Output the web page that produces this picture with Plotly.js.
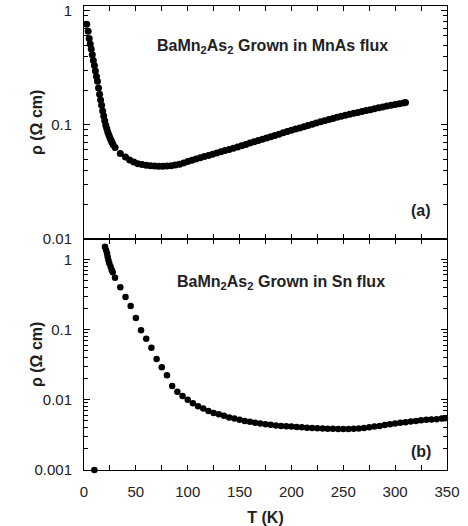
<!DOCTYPE html>
<html>
<head>
<meta charset="utf-8">
<script src="https://cdn.plot.ly/plotly-3.0.1.min.js"></script>
<style>html,body{margin:0;padding:0;background:#fff;}#chart{width:468px;height:526px;}</style>
</head>
<body>
<div id="chart"></div>
<script>
// Panel (a): BaMn2As2 grown in MnAs flux
var tempA = [2.6,4,5,6,7,8,9,10,11,12,13,14,15,16,17,18,19,20,21,22,23,24,25,26,27,28,30,35,40,44,48,52,56,60,64,68,72,76,80,84,88,92,96,100,104,108,112,116,120,124,128,132,136,140,144,148,152,156,160,164,168,172,176,180,184,188,192,196,200,204,208,212,216,220,224,228,232,236,240,244,248,252,256,260,264,268,272,276,280,284,288,292,296,300,304,308,310];
var rhoA = [0.76,0.66,0.57,0.51,0.46,0.41,0.365,0.33,0.295,0.265,0.24,0.21,0.185,0.165,0.148,0.132,0.119,0.108,0.099,0.092,0.086,0.081,0.077,0.073,0.070,0.067,0.063,0.056,0.052,0.049,0.047,0.0455,0.0447,0.0440,0.0436,0.0434,0.0433,0.0433,0.0434,0.0437,0.0442,0.0450,0.0462,0.0475,0.0488,0.0500,0.0512,0.0525,0.0538,0.0550,0.0565,0.0580,0.0593,0.0607,0.0620,0.0638,0.0655,0.0670,0.0690,0.0710,0.0728,0.0745,0.0765,0.0785,0.0805,0.0825,0.0848,0.0870,0.0893,0.0915,0.0935,0.0960,0.0985,0.1010,0.1035,0.1060,0.1085,0.1110,0.1135,0.1160,0.1185,0.1210,0.1235,0.1260,0.1280,0.1305,0.1330,0.1355,0.1380,0.1405,0.1430,0.1455,0.1480,0.1500,0.1525,0.1550,0.1565];

// Panel (b): BaMn2As2 grown in Sn flux
var tempB = [10,20.2,21.2,22.2,22.8,23.5,24.4,25.7,26.7,27.7,29.9,35,40,45,50,55,60,65,70,75,80,85,90,95,100,105,110,115,120,125,130,135,140,145,150,155,160,165,170,175,180,185,190,195,200,205,210,215,220,225,230,235,240,245,250,255,260,265,270,275,280,285,290,295,300,305,310,315,320,325,330,335,340,345,348];
var rhoB = [0.001,1.51,1.36,1.22,1.09,0.98,0.877,0.785,0.704,0.653,0.547,0.40,0.29,0.216,0.146,0.098,0.074,0.055,0.038,0.029,0.0223,0.0157,0.013,0.0113,0.0100,0.0089,0.0081,0.0075,0.0069,0.0065,0.0062,0.0059,0.0056,0.0054,0.0052,0.0050,0.00485,0.0047,0.0046,0.0045,0.0044,0.00432,0.00425,0.0042,0.00415,0.0041,0.00405,0.0040,0.00397,0.00393,0.0039,0.00388,0.00386,0.00385,0.00384,0.00384,0.00386,0.0039,0.00397,0.00405,0.00415,0.00425,0.00437,0.00448,0.0046,0.0047,0.0048,0.0049,0.0050,0.0051,0.0052,0.00525,0.0053,0.0054,0.00545];

var xTickVals = [0,25,50,75,100,125,150,175,200,225,250,275,300,325,350];
var xTickText = ['0','','50','','100','','150','','200','','250','','300','','350'];
var yTopVals = [1,0.1,0.01];
var yTopText = ['1','0.1','0.01'];
var yBotVals = [1,0.1,0.01,0.001];
var yBotText = ['1','0.1','0.01','0.001'];

var FONT = 'Liberation Sans, Arial, sans-serif';

var traces = [
  {x: tempA, y: rhoA, xaxis: 'x2', yaxis: 'y2', type: 'scatter', mode: 'markers',
   marker: {color: '#000', size: 7}, cliponaxis: false, hoverinfo: 'skip'},
  {x: tempB, y: rhoB, xaxis: 'x', yaxis: 'y', type: 'scatter', mode: 'markers',
   marker: {color: '#000', size: 6.5}, cliponaxis: false, hoverinfo: 'skip'}
];

var commonX = {
  range: [0, 350], showgrid: false, zeroline: false,
  showline: true, linecolor: '#000', linewidth: 1, mirror: 'allticks',
  ticks: 'inside', ticklen: 5, tickcolor: '#000', tickwidth: 1,
  tickmode: 'array', tickvals: xTickVals, ticktext: xTickText
};
var commonY = {
  type: 'log', showgrid: false, zeroline: false,
  showline: true, linecolor: '#000', linewidth: 1, mirror: 'allticks',
  ticks: 'inside', ticklen: 6, tickcolor: '#000', tickwidth: 1,
  tickmode: 'array',
  minor: {ticks: 'inside', ticklen: 4, tickcolor: '#000', tickwidth: 1, dtick: 'D1', showgrid: false},
  ticklabelstandoff: 8,
  tickfont: {family: FONT, size: 15, color: '#222'},
  title: {text: 'ρ (Ω cm)', font: {family: FONT, size: 16, color: '#222', weight: 'bold'}}
};

var layout = {
  width: 468, height: 526,
  margin: {l: 84, r: 21, t: 6, b: 56},
  paper_bgcolor: '#fff', plot_bgcolor: '#fff',
  showlegend: false,
  xaxis: Object.assign({}, commonX, {
    anchor: 'y', domain: [0, 1],
    ticklabelstandoff: 8,
    tickfont: {family: FONT, size: 15, color: '#222'},
    title: {text: 'T (K)', font: {family: FONT, size: 16, color: '#222', weight: 'bold'}}
  }),
  xaxis2: Object.assign({}, commonX, {
    anchor: 'y2', matches: 'x', showticklabels: false
  }),
  yaxis: Object.assign({}, commonY, {
    anchor: 'x', domain: [0, 0.4985], range: [-3, 0.294],
    tickvals: yBotVals, ticktext: yBotText
  }),
  yaxis2: Object.assign({}, commonY, {
    anchor: 'x2', domain: [0.4985, 1], range: [-2, 0.041],
    tickvals: yTopVals, ticktext: yTopText
  }),
  annotations: [
    {text: 'BaMn<sub>2</sub>As<sub>2</sub> Grown in MnAs flux', xref: 'paper', yref: 'paper',
     x: 0.520, y: 0.912, showarrow: false, xanchor: 'center', yanchor: 'middle',
     font: {family: FONT, size: 16, color: '#222', weight: 'bold'}},
    {text: 'BaMn<sub>2</sub>As<sub>2</sub> Grown in Sn flux', xref: 'paper', yref: 'paper',
     x: 0.544, y: 0.404, showarrow: false, xanchor: 'center', yanchor: 'middle',
     font: {family: FONT, size: 16, color: '#222', weight: 'bold'}},
    {text: '(a)', xref: 'paper', yref: 'paper', x: 0.9275, y: 0.559, showarrow: false,
     xanchor: 'center', yanchor: 'middle', font: {family: FONT, size: 16, color: '#222', weight: 'bold'}},
    {text: '(b)', xref: 'paper', yref: 'paper', x: 0.9275, y: 0.0394, showarrow: false,
     xanchor: 'center', yanchor: 'middle', font: {family: FONT, size: 16, color: '#222', weight: 'bold'}}
  ]
};

Plotly.newPlot('chart', traces, layout, {staticPlot: true, displayModeBar: false});
</script>
</body>
</html>
